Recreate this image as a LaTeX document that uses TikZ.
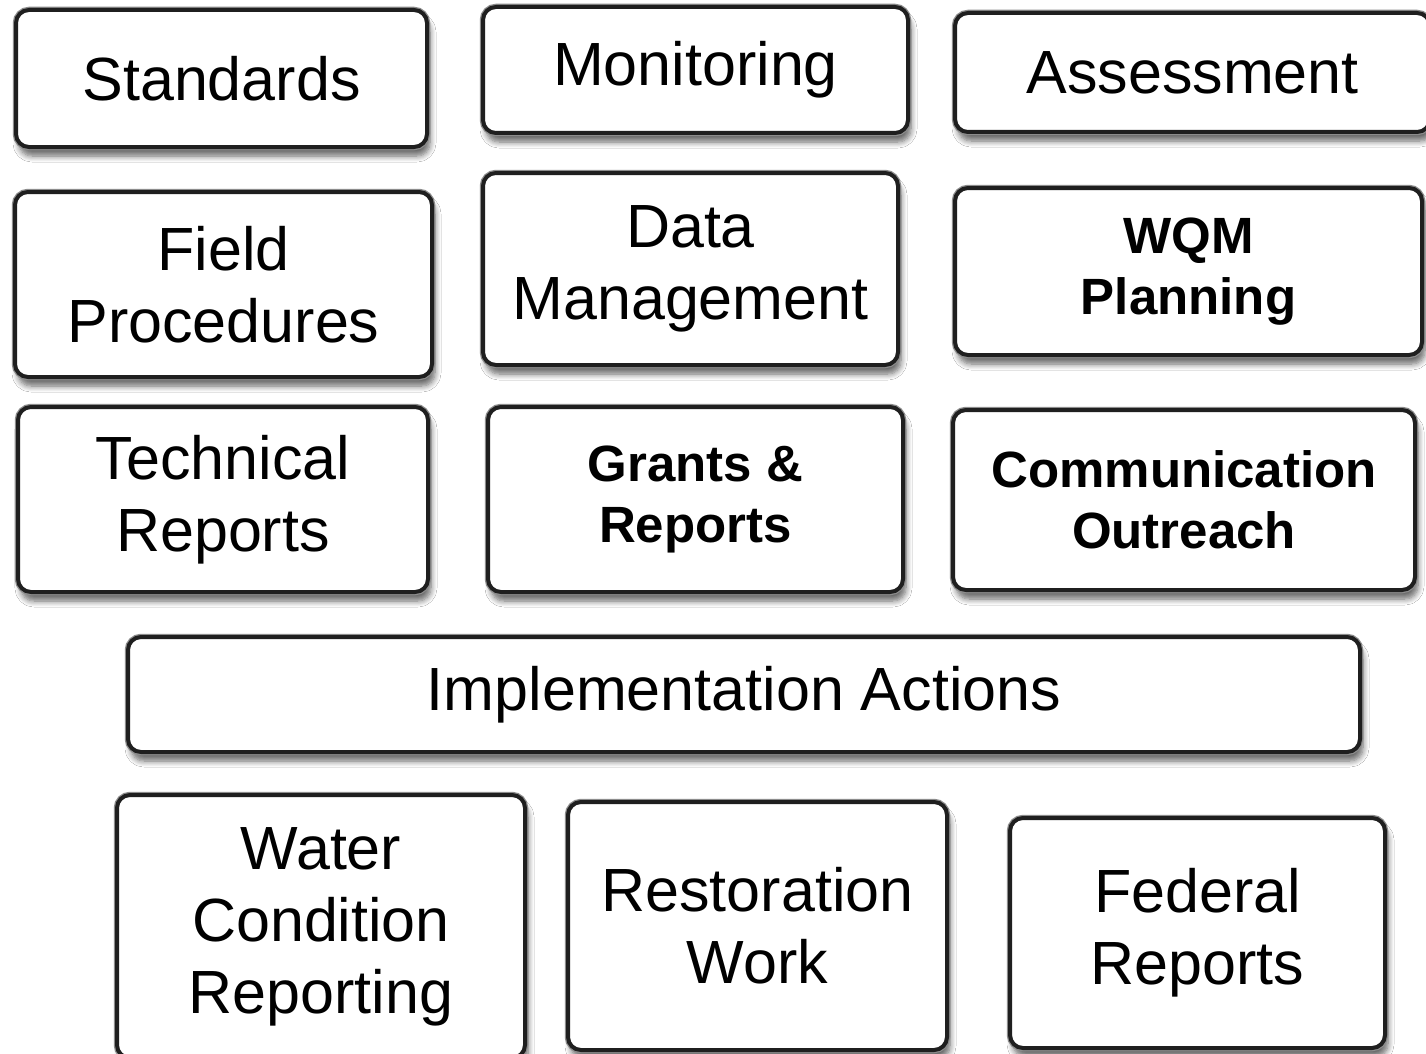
\documentclass[tikz,border=0pt]{standalone}
\usepackage{fontspec}
\setmainfont{Liberation Sans}
\usetikzlibrary{shadows.blur}
\begin{document}
\begin{tikzpicture}[x=1pt,y=-1pt,
  card/.style={draw=black!88, line width=4pt, fill=white, rounded corners=13pt,
    blur shadow={shadow xshift=3pt, shadow yshift=-9pt, shadow blur steps=7, shadow blur radius=6pt, shadow opacity=60},
    preaction={draw=black!45, line width=6.5pt},
    align=center, inner sep=0pt},
  regtext/.style={font=\fontsize{61}{72}\selectfont},
  boldtext/.style={font=\fontsize{51}{61}\selectfont\bfseries}]
\useasboundingbox[fill=white] (0,0) rectangle (1426,1054);
\newcommand{\mycard}[7]{% name, x1, y1, x2, y2, style, text
  \node[card,#6,minimum width={#4-#2}, minimum height={#5-#3}] (#1) at ({(#2+#4)/2},{(#3+#5)/2}) {#7};}
\mycard{std}{16}{10}{427}{147}{regtext}{Standards}
\mycard{mon}{483}{7}{908}{133}{regtext}{Monitoring}
\mycard{ass}{955}{13}{1430}{132}{regtext}{Assessment}
\mycard{fld}{15}{192}{432}{377}{regtext}{Field\\Procedures}
\mycard{dat}{483}{173}{898}{365}{regtext}{Data\\Management}
\mycard{wqm}{955}{188}{1422}{355}{boldtext}{WQM\\Planning}
\mycard{tec}{18}{407}{428}{592}{regtext}{Technical\\Reports}
\mycard{gra}{488}{407}{903}{592}{boldtext}{Grants \&\\Reports}
\mycard{com}{953}{410}{1415}{590}{boldtext}{Communication\\Outreach}
\mycard{imp}{128}{637}{1360}{752}{regtext}{Implementation Actions}
\mycard{wat}{117}{795}{525}{1058}{regtext}{Water\\Condition\\Reporting}
\mycard{res}{568}{802}{947}{1050}{regtext}{Restoration\\Work}
\mycard{fed}{1010}{818}{1385}{1048}{regtext}{Federal\\Reports}
\end{tikzpicture}
\end{document}
